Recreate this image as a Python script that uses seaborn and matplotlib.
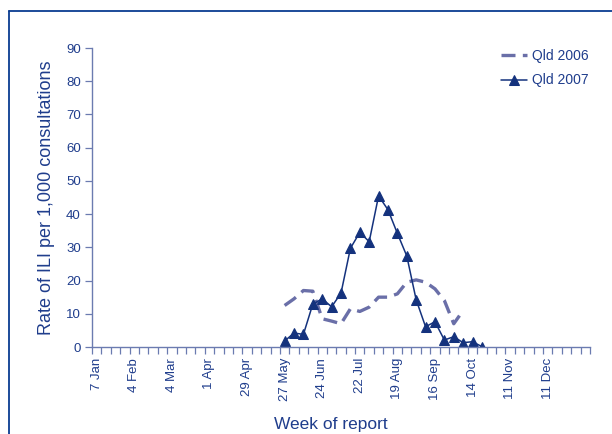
import matplotlib
matplotlib.use("Agg")
import matplotlib.pyplot as plt
import seaborn as sns
import pandas as pd
import numpy as np

# ---- data ----
week_labels = ["7 Jan", "4 Feb", "4 Mar", "1 Apr", "29 Apr", "27 May", "24 Jun",
               "22 Jul", "19 Aug", "16 Sep", "14 Oct", "11 Nov", "11 Dec"]
label_weeks = [0, 4, 8, 12, 16, 20, 24, 28, 32, 36, 40, 44, 48]
n_weeks = 53

weeks_2006 = [20, 21, 22, 23, 24, 25, 26, 27, 28, 29, 30, 31, 32, 33, 34, 35, 36, 37, 38, 39]
qld_2006 = [12.5, 14.5, 17.0, 16.8, 8.5, 7.8, 7.0, 11.5, 10.7, 12.0,
            15.0, 15.0, 16.0, 19.5, 20.2, 19.5, 17.5, 14.0, 7.0, 11.0]

weeks_2007 = [20, 21, 22, 23, 24, 25, 26, 27, 28, 29, 30, 31, 32, 33, 34, 35, 36, 37, 38, 39, 40, 41]
qld_2007 = [1.8, 4.2, 3.8, 12.9, 14.5, 12.1, 16.2, 29.7, 34.5, 31.7, 45.5,
            41.3, 34.2, 27.4, 14.2, 6.1, 7.6, 2.1, 3.1, 1.3, 1.6, 0.1]

df06 = pd.DataFrame({"week": weeks_2006, "rate": qld_2006})
df07 = pd.DataFrame({"week": weeks_2007, "rate": qld_2007})

# ---- style ----
sns.set_style("white")
plt.rcParams["font.family"] = ["Liberation Sans", "DejaVu Sans"]
text_c = "#1f3d8c"
spine_c = "#6b7bb0"
c06 = "#6a6fa8"
c07 = "#14327d"

fig = plt.figure(figsize=(6.12, 4.34), dpi=100)
ax = fig.add_axes([92 / 612, 1 - 347 / 434, (590 - 92) / 612, (347 - 48) / 434])

sns.lineplot(data=df06, x="week", y="rate", ax=ax, color=c06, linewidth=2.4,
             label="Qld 2006")
ax.lines[-1].set_dashes((4.2, 2.2))
sns.lineplot(data=df07, x="week", y="rate", ax=ax, color=c07, linewidth=1.1,
             marker="^", markersize=7, markeredgecolor=c07, label="Qld 2007")

ax.set_xlim(-0.5, n_weeks - 0.5)
ax.set_ylim(0, 90)
ax.set_yticks(np.arange(0, 91, 10))
ax.set_xticks(label_weeks)
ax.set_xticklabels(week_labels, rotation=90)
ax.set_xticks(np.arange(-0.5, n_weeks, 1), minor=True)
ax.tick_params(axis="x", which="major", length=0, pad=8, labelsize=9.5, labelcolor=text_c)
ax.tick_params(axis="x", which="minor", length=5, width=0.9, color=spine_c, direction="out",
               bottom=True)
ax.tick_params(axis="y", which="major", length=5, width=0.9, color=spine_c, direction="out",
               left=True, labelsize=9.5, labelcolor=text_c, pad=3)

for s in ["top", "right"]:
    ax.spines[s].set_visible(False)
for s in ["left", "bottom"]:
    ax.spines[s].set_color(spine_c)
    ax.spines[s].set_linewidth(1.0)

ax.set_xlabel("Week of report", fontsize=12.5, color=text_c)
ax.xaxis.set_label_coords((331 - 92) / 498, -(417 - 347) / 299)
ax.set_ylabel("Rate of ILI per 1,000 consultations", fontsize=13, color=text_c)
ax.yaxis.set_label_coords(-(92 - 55) / 498, 0.5)

leg = ax.legend(loc="upper left", bbox_to_anchor=(494 / 612, 1 - 42 / 434),
                bbox_transform=fig.transFigure, frameon=False, fontsize=10,
                handlelength=1.9, handletextpad=0.3, labelspacing=0.75, borderpad=0)
for t in leg.get_texts():
    t.set_color(text_c)

# outer frame (left and top edges)
fig.add_artist(plt.Line2D([8.5 / 612, 8.5 / 612], [0, 1 - 10.5 / 434],
                          transform=fig.transFigure, color="#0a3d91", linewidth=1.3))
fig.add_artist(plt.Line2D([8.5 / 612, 1], [1 - 10.5 / 434, 1 - 10.5 / 434],
                          transform=fig.transFigure, color="#0a3d91", linewidth=1.3))

fig.savefig("out.png", dpi=100)
